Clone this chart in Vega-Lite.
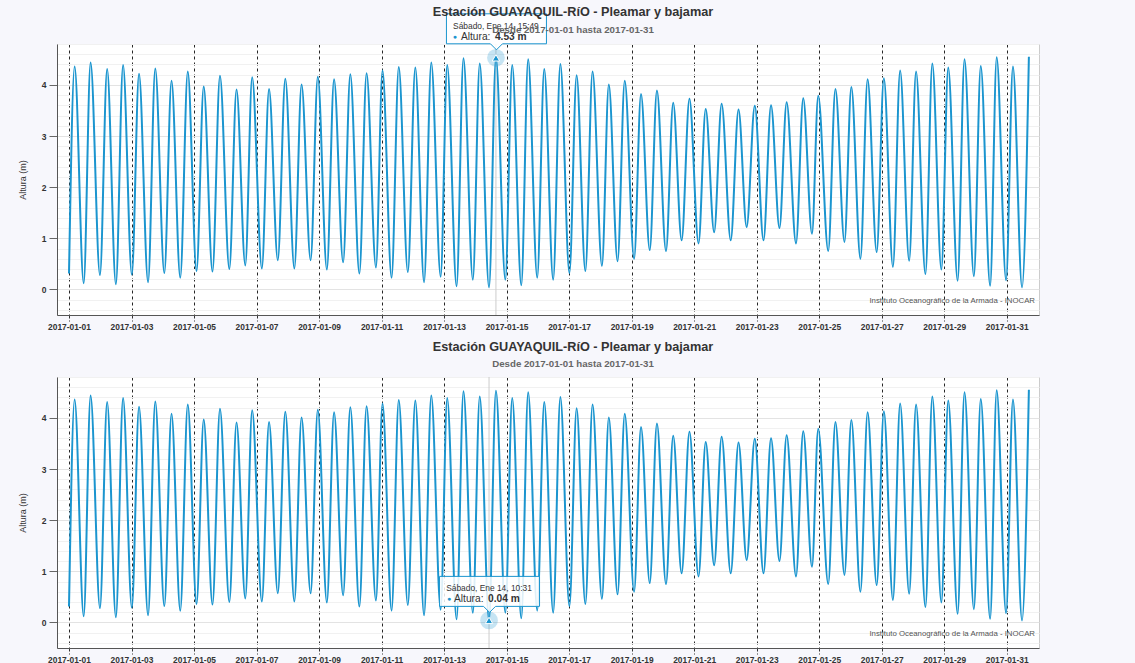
{
"$schema": "https://vega.github.io/schema/vega-lite/v6.json",
"background": "#f7f7fc",
"padding": {"left": 17, "top": 5, "right": 96, "bottom": 0},
"spacing": 9,
"config": {
  "font": "Liberation Sans",
  "view": {"fill": "white", "stroke": "#cccccc", "strokeWidth": 1},
  "axis": {"domainColor": "#555555", "labelColor": "#333333"}
},
"datasets": {
  "tide": [
    {"t":"2017-01-01T00:00:00Z","h":0.31},{"t":"2017-01-01T04:19:00Z","h":4.36},{"t":"2017-01-01T11:17:00Z","h":0.12},{"t":"2017-01-01T16:34:00Z","h":4.44},{"t":"2017-01-01T23:46:00Z","h":0.28},
    {"t":"2017-01-02T05:17:00Z","h":4.31},{"t":"2017-01-02T12:00:00Z","h":0.10},{"t":"2017-01-02T17:31:00Z","h":4.39},
    {"t":"2017-01-03T00:14:00Z","h":0.29},{"t":"2017-01-03T05:46:00Z","h":4.22},{"t":"2017-01-03T12:43:00Z","h":0.14},{"t":"2017-01-03T18:14:00Z","h":4.32},
    {"t":"2017-01-04T01:12:00Z","h":0.32},{"t":"2017-01-04T06:43:00Z","h":4.08},{"t":"2017-01-04T13:26:00Z","h":0.23},{"t":"2017-01-04T19:12:00Z","h":4.26},
    {"t":"2017-01-05T01:55:00Z","h":0.36},{"t":"2017-01-05T07:26:00Z","h":3.97},{"t":"2017-01-05T14:10:00Z","h":0.35},{"t":"2017-01-05T19:55:00Z","h":4.18},
    {"t":"2017-01-06T03:07:00Z","h":0.40},{"t":"2017-01-06T08:38:00Z","h":3.91},{"t":"2017-01-06T15:22:00Z","h":0.47},{"t":"2017-01-06T20:38:00Z","h":4.15},
    {"t":"2017-01-07T04:05:00Z","h":0.41},{"t":"2017-01-07T09:36:00Z","h":3.92},{"t":"2017-01-07T16:19:00Z","h":0.57},{"t":"2017-01-07T22:05:00Z","h":4.12},
    {"t":"2017-01-08T05:02:00Z","h":0.41},{"t":"2017-01-08T10:34:00Z","h":4.01},{"t":"2017-01-08T17:31:00Z","h":0.57},{"t":"2017-01-08T23:02:00Z","h":4.16},
    {"t":"2017-01-09T06:00:00Z","h":0.39},{"t":"2017-01-09T11:31:00Z","h":4.11},{"t":"2017-01-09T18:29:00Z","h":0.53},
    {"t":"2017-01-10T00:00:00Z","h":4.21},{"t":"2017-01-10T06:58:00Z","h":0.31},{"t":"2017-01-10T12:29:00Z","h":4.23},{"t":"2017-01-10T19:41:00Z","h":0.43},
    {"t":"2017-01-11T00:43:00Z","h":4.28},{"t":"2017-01-11T07:41:00Z","h":0.23},{"t":"2017-01-11T13:12:00Z","h":4.35},{"t":"2017-01-11T20:10:00Z","h":0.34},
    {"t":"2017-01-12T01:55:00Z","h":4.34},{"t":"2017-01-12T08:38:00Z","h":0.14},{"t":"2017-01-12T14:10:00Z","h":4.44},{"t":"2017-01-12T21:22:00Z","h":0.25},
    {"t":"2017-01-13T02:24:00Z","h":4.39},{"t":"2017-01-13T09:36:00Z","h":0.06},{"t":"2017-01-13T14:53:00Z","h":4.52},{"t":"2017-01-13T22:05:00Z","h":0.19},
    {"t":"2017-01-14T03:22:00Z","h":4.42},{"t":"2017-01-14T10:31:00Z","h":0.04},{"t":"2017-01-14T15:49:00Z","h":4.53},{"t":"2017-01-14T23:02:00Z","h":0.19},
    {"t":"2017-01-15T04:19:00Z","h":4.39},{"t":"2017-01-15T11:17:00Z","h":0.08},{"t":"2017-01-15T16:34:00Z","h":4.50},{"t":"2017-01-15T23:31:00Z","h":0.23},
    {"t":"2017-01-16T04:55:00Z","h":4.31},{"t":"2017-01-16T11:46:00Z","h":0.19},{"t":"2017-01-16T17:17:00Z","h":4.41},
    {"t":"2017-01-17T00:14:00Z","h":0.32},{"t":"2017-01-17T05:46:00Z","h":4.19},{"t":"2017-01-17T12:29:00Z","h":0.36},{"t":"2017-01-17T18:00:00Z","h":4.26},
    {"t":"2017-01-18T01:12:00Z","h":0.46},{"t":"2017-01-18T06:29:00Z","h":4.01},{"t":"2017-01-18T13:12:00Z","h":0.55},{"t":"2017-01-18T18:43:00Z","h":4.08},
    {"t":"2017-01-19T01:55:00Z","h":0.60},{"t":"2017-01-19T07:12:00Z","h":3.82},{"t":"2017-01-19T13:55:00Z","h":0.77},{"t":"2017-01-19T19:26:00Z","h":3.89},
    {"t":"2017-01-20T02:24:00Z","h":0.75},{"t":"2017-01-20T07:55:00Z","h":3.65},{"t":"2017-01-20T14:24:00Z","h":0.96},{"t":"2017-01-20T20:24:00Z","h":3.73},
    {"t":"2017-01-21T03:22:00Z","h":0.90},{"t":"2017-01-21T08:53:00Z","h":3.53},{"t":"2017-01-21T15:22:00Z","h":1.12},{"t":"2017-01-21T21:07:00Z","h":3.63},
    {"t":"2017-01-22T04:05:00Z","h":0.96},{"t":"2017-01-22T10:05:00Z","h":3.52},{"t":"2017-01-22T16:19:00Z","h":1.22},{"t":"2017-01-22T22:34:00Z","h":3.59},
    {"t":"2017-01-23T05:17:00Z","h":0.96},{"t":"2017-01-23T11:02:00Z","h":3.60},{"t":"2017-01-23T17:31:00Z","h":1.20},{"t":"2017-01-23T23:02:00Z","h":3.66},
    {"t":"2017-01-24T06:14:00Z","h":0.90},{"t":"2017-01-24T11:46:00Z","h":3.74},{"t":"2017-01-24T18:29:00Z","h":1.09},{"t":"2017-01-24T23:17:00Z","h":3.79},
    {"t":"2017-01-25T06:58:00Z","h":0.75},{"t":"2017-01-25T12:29:00Z","h":3.92},{"t":"2017-01-25T19:26:00Z","h":0.93},
    {"t":"2017-01-26T00:43:00Z","h":3.96},{"t":"2017-01-26T07:41:00Z","h":0.60},{"t":"2017-01-26T13:12:00Z","h":4.11},{"t":"2017-01-26T20:10:00Z","h":0.73},
    {"t":"2017-01-27T01:41:00Z","h":4.13},{"t":"2017-01-27T08:38:00Z","h":0.44},{"t":"2017-01-27T14:10:00Z","h":4.28},{"t":"2017-01-27T21:07:00Z","h":0.56},
    {"t":"2017-01-28T02:24:00Z","h":4.26},{"t":"2017-01-28T09:36:00Z","h":0.30},{"t":"2017-01-28T14:53:00Z","h":4.42},{"t":"2017-01-28T21:50:00Z","h":0.39},
    {"t":"2017-01-29T03:07:00Z","h":4.34},{"t":"2017-01-29T10:19:00Z","h":0.17},{"t":"2017-01-29T15:36:00Z","h":4.50},{"t":"2017-01-29T22:48:00Z","h":0.26},
    {"t":"2017-01-30T04:05:00Z","h":4.37},{"t":"2017-01-30T11:17:00Z","h":0.07},{"t":"2017-01-30T16:19:00Z","h":4.54},{"t":"2017-01-30T23:31:00Z","h":0.18},
    {"t":"2017-01-31T04:48:00Z","h":4.36},{"t":"2017-01-31T11:46:00Z","h":0.04},{"t":"2017-01-31T17:02:00Z","h":4.55}
  ],
  "tip1": [{"t":"2017-01-14T15:49:00Z","h":4.53,"fecha":"Sábado, Ene 14, 15:49","valor":"4.53 m"}],
  "tip2": [{"t":"2017-01-14T10:31:00Z","h":0.04,"fecha":"Sábado, Ene 14, 10:31","valor":"0.04 m"}],
  "credit": [{"texto":"Instituto Oceanográfico de la Armada - INOCAR"}]
},
"vconcat": [
  {
    "width": 982, "height": 271,
    "title": {"text": "Estación GUAYAQUIL-RíO - Pleamar y bajamar", "subtitle": "Desde 2017-01-01 hasta 2017-01-31", "frame": "group", "anchor": "middle", "dx": 25, "fontSize": 12.7, "fontWeight": "bold", "color": "#333333", "subtitleFontSize": 9.7, "subtitleFontWeight": "bold", "subtitleColor": "#666666", "offset": -23, "subtitlePadding": 6},
    "layer": [
      {"data": {"name": "tide"}, "mark": {"type": "line", "interpolate": "monotone", "strokeOpacity": 0, "strokeWidth": 2},
       "encoding": {
         "x": {"field": "t", "type": "temporal", "scale": {"type": "utc", "domain": [{"year":2016,"month":12,"date":31,"hours":14,"minutes":47,"utc":true},{"year":2017,"month":2,"date":1,"hours":0,"minutes":48,"utc":true}]},
           "axis": {"title": null, "format": "%Y-%m-%d", "tickCount": 40, "values": [{"year":2017,"month":1,"date":1,"utc":true},{"year":2017,"month":1,"date":3,"utc":true},{"year":2017,"month":1,"date":5,"utc":true},{"year":2017,"month":1,"date":7,"utc":true},{"year":2017,"month":1,"date":9,"utc":true},{"year":2017,"month":1,"date":11,"utc":true},{"year":2017,"month":1,"date":13,"utc":true},{"year":2017,"month":1,"date":15,"utc":true},{"year":2017,"month":1,"date":17,"utc":true},{"year":2017,"month":1,"date":19,"utc":true},{"year":2017,"month":1,"date":21,"utc":true},{"year":2017,"month":1,"date":23,"utc":true},{"year":2017,"month":1,"date":25,"utc":true},{"year":2017,"month":1,"date":27,"utc":true},{"year":2017,"month":1,"date":29,"utc":true},{"year":2017,"month":1,"date":31,"utc":true}],
             "grid": true, "gridColor": "#000000", "gridDash": [3, 3], "gridOpacity": 0.85, "tickSize": 6, "tickColor": "#333333", "tickDash": [3, 2], "labelFontSize": 8.4, "labelFontWeight": "bold", "labelPadding": 1, "labelFlush": false, "labelOverlap": false, "domainColor": "#555555"}},
         "y": {"field": "h", "type": "quantitative", "scale": {"domain": [-0.5, 4.8], "nice": false, "zero": false},
           "axis": {"title": "Altura (m)", "titleFontSize": 9, "titleFontWeight": "normal", "titleColor": "#333333", "titlePadding": 14, "tickCount": 40,
             "values": [-0.4,-0.2,0,0.2,0.4,0.6,0.8,1,1.2,1.4,1.6,1.8,2,2.2,2.4,2.6,2.8,3,3.2,3.4,3.6,3.8,4,4.2,4.4,4.6,4.8],
             "labelExpr": "datum.value % 1 === 0 ? format(datum.value, 'd') : ''",
             "labelFontSize": 8.5, "labelFontWeight": "bold", "labelPadding": 3, "labelOverlap": false, "tickSize": 8, "tickColor": "#666666",
             "tickOpacity": {"condition": {"test": "datum.value % 1 === 0", "value": 1}, "value": 0},
             "gridColor": {"condition": {"test": "datum.value % 1 === 0", "value": "#e3e3e3"}, "value": "#f1f1f1"},
             "domainColor": "#555555"}}
       }},
      {"data": {"name": "tip1"}, "mark": {"type": "rule", "color": "#cccccc", "strokeWidth": 1},
       "encoding": {"x": {"field": "t", "type": "temporal", "scale": {"type": "utc"}}}},
      {"data": {"name": "tide"}, "mark": {"type": "line", "interpolate": "monotone", "color": "#1b95cf", "strokeWidth": 2},
       "encoding": {"x": {"field": "t", "type": "temporal", "scale": {"type": "utc"}}, "y": {"field": "h", "type": "quantitative"}}},
      {"data": {"name": "credit"}, "mark": {"type": "text", "align": "right", "baseline": "middle", "fontSize": 7.8, "color": "#555555", "xOffset": -4},
       "encoding": {"x": {"datum": {"year":2017,"month":2,"date":1,"hours":0,"minutes":48,"utc":true}, "type": "temporal", "scale": {"type": "utc"}}, "y": {"datum": -0.23, "type": "quantitative"}, "text": {"field": "texto"}}},
      {"data": {"name": "tip1"}, "mark": {"type": "point", "shape": "circle", "size": 314, "filled": true, "color": "#1b95cf", "opacity": 0.25},
       "encoding": {"x": {"field": "t", "type": "temporal", "scale": {"type": "utc"}}, "y": {"field": "h", "type": "quantitative"}}},
      {"data": {"name": "tip1"}, "mark": {"type": "point", "shape": "triangle-up", "size": 55, "filled": true, "color": "#1b95cf", "stroke": "white", "strokeWidth": 1, "opacity": 1},
       "encoding": {"x": {"field": "t", "type": "temporal", "scale": {"type": "utc"}}, "y": {"field": "h", "type": "quantitative"}}},
      {"data": {"name": "tip1"}, "mark": {"type": "point", "shape": "M-1,-0.3L1,-0.3L1,0.3L0.12,0.3L0,0.42L-0.12,0.3L-1,0.3Z", "size": 10000, "filled": true, "fill": "white", "fillOpacity": 0.85, "stroke": "#1b95cf", "strokeWidth": 1, "strokeOpacity": 1, "yOffset": -29, "xOffset": 0.5},
       "encoding": {"x": {"field": "t", "type": "temporal", "scale": {"type": "utc"}}, "y": {"field": "h", "type": "quantitative"}}},
      {"data": {"name": "tip1"}, "mark": {"type": "text", "align": "center", "baseline": "middle", "fontSize": 8.4, "color": "#333333", "yOffset": -32},
       "encoding": {"x": {"field": "t", "type": "temporal", "scale": {"type": "utc"}}, "y": {"field": "h", "type": "quantitative"}, "text": {"field": "fecha"}}},
      {"data": {"name": "tip1"}, "mark": {"type": "text", "text": "●", "align": "center", "baseline": "middle", "fontSize": 7, "color": "#1b95cf", "yOffset": -21, "xOffset": -41},
       "encoding": {"x": {"field": "t", "type": "temporal", "scale": {"type": "utc"}}, "y": {"field": "h", "type": "quantitative"}}},
      {"data": {"name": "tip1"}, "mark": {"type": "text", "text": "Altura:", "align": "left", "baseline": "middle", "fontSize": 10.2, "color": "#333333", "yOffset": -21, "xOffset": -35},
       "encoding": {"x": {"field": "t", "type": "temporal", "scale": {"type": "utc"}}, "y": {"field": "h", "type": "quantitative"}}},
      {"data": {"name": "tip1"}, "mark": {"type": "text", "align": "left", "baseline": "middle", "fontSize": 10.2, "fontWeight": "bold", "color": "#333333", "yOffset": -21, "xOffset": -1},
       "encoding": {"x": {"field": "t", "type": "temporal", "scale": {"type": "utc"}}, "y": {"field": "h", "type": "quantitative"}, "text": {"field": "valor"}}}
    ]
  },
  {
    "width": 982, "height": 271,
    "title": {"text": "Estación GUAYAQUIL-RíO - Pleamar y bajamar", "subtitle": "Desde 2017-01-01 hasta 2017-01-31", "frame": "group", "anchor": "middle", "dx": 25, "fontSize": 12.7, "fontWeight": "bold", "color": "#333333", "subtitleFontSize": 9.7, "subtitleFontWeight": "bold", "subtitleColor": "#666666", "offset": 4, "subtitlePadding": 6},
    "layer": [
      {"data": {"name": "tide"}, "mark": {"type": "line", "interpolate": "monotone", "strokeOpacity": 0, "strokeWidth": 2},
       "encoding": {
         "x": {"field": "t", "type": "temporal", "scale": {"type": "utc", "domain": [{"year":2016,"month":12,"date":31,"hours":14,"minutes":47,"utc":true},{"year":2017,"month":2,"date":1,"hours":0,"minutes":48,"utc":true}]},
           "axis": {"title": null, "format": "%Y-%m-%d", "tickCount": 40, "values": [{"year":2017,"month":1,"date":1,"utc":true},{"year":2017,"month":1,"date":3,"utc":true},{"year":2017,"month":1,"date":5,"utc":true},{"year":2017,"month":1,"date":7,"utc":true},{"year":2017,"month":1,"date":9,"utc":true},{"year":2017,"month":1,"date":11,"utc":true},{"year":2017,"month":1,"date":13,"utc":true},{"year":2017,"month":1,"date":15,"utc":true},{"year":2017,"month":1,"date":17,"utc":true},{"year":2017,"month":1,"date":19,"utc":true},{"year":2017,"month":1,"date":21,"utc":true},{"year":2017,"month":1,"date":23,"utc":true},{"year":2017,"month":1,"date":25,"utc":true},{"year":2017,"month":1,"date":27,"utc":true},{"year":2017,"month":1,"date":29,"utc":true},{"year":2017,"month":1,"date":31,"utc":true}],
             "grid": true, "gridColor": "#000000", "gridDash": [3, 3], "gridOpacity": 0.85, "tickSize": 6, "tickColor": "#333333", "tickDash": [3, 2], "labelFontSize": 8.4, "labelFontWeight": "bold", "labelPadding": 1, "labelFlush": false, "labelOverlap": false, "domainColor": "#555555"}},
         "y": {"field": "h", "type": "quantitative", "scale": {"domain": [-0.5, 4.8], "nice": false, "zero": false},
           "axis": {"title": "Altura (m)", "titleFontSize": 9, "titleFontWeight": "normal", "titleColor": "#333333", "titlePadding": 14, "tickCount": 40,
             "values": [-0.4,-0.2,0,0.2,0.4,0.6,0.8,1,1.2,1.4,1.6,1.8,2,2.2,2.4,2.6,2.8,3,3.2,3.4,3.6,3.8,4,4.2,4.4,4.6,4.8],
             "labelExpr": "datum.value % 1 === 0 ? format(datum.value, 'd') : ''",
             "labelFontSize": 8.5, "labelFontWeight": "bold", "labelPadding": 3, "labelOverlap": false, "tickSize": 8, "tickColor": "#666666",
             "tickOpacity": {"condition": {"test": "datum.value % 1 === 0", "value": 1}, "value": 0},
             "gridColor": {"condition": {"test": "datum.value % 1 === 0", "value": "#e3e3e3"}, "value": "#f1f1f1"},
             "domainColor": "#555555"}}
       }},
      {"data": {"name": "tip2"}, "mark": {"type": "rule", "color": "#cccccc", "strokeWidth": 1},
       "encoding": {"x": {"field": "t", "type": "temporal", "scale": {"type": "utc"}}}},
      {"data": {"name": "tide"}, "mark": {"type": "line", "interpolate": "monotone", "color": "#1b95cf", "strokeWidth": 2},
       "encoding": {"x": {"field": "t", "type": "temporal", "scale": {"type": "utc"}}, "y": {"field": "h", "type": "quantitative"}}},
      {"data": {"name": "credit"}, "mark": {"type": "text", "align": "right", "baseline": "middle", "fontSize": 7.8, "color": "#555555", "xOffset": -4},
       "encoding": {"x": {"datum": {"year":2017,"month":2,"date":1,"hours":0,"minutes":48,"utc":true}, "type": "temporal", "scale": {"type": "utc"}}, "y": {"datum": -0.23, "type": "quantitative"}, "text": {"field": "texto"}}},
      {"data": {"name": "tip2"}, "mark": {"type": "point", "shape": "circle", "size": 314, "filled": true, "color": "#1b95cf", "opacity": 0.25},
       "encoding": {"x": {"field": "t", "type": "temporal", "scale": {"type": "utc"}}, "y": {"field": "h", "type": "quantitative"}}},
      {"data": {"name": "tip2"}, "mark": {"type": "point", "shape": "triangle-up", "size": 55, "filled": true, "color": "#1b95cf", "stroke": "white", "strokeWidth": 1, "opacity": 1},
       "encoding": {"x": {"field": "t", "type": "temporal", "scale": {"type": "utc"}}, "y": {"field": "h", "type": "quantitative"}}},
      {"data": {"name": "tip2"}, "mark": {"type": "point", "shape": "M-1,-0.3L1,-0.3L1,0.3L0.12,0.3L0,0.42L-0.12,0.3L-1,0.3Z", "size": 10000, "filled": true, "fill": "white", "fillOpacity": 0.85, "stroke": "#1b95cf", "strokeWidth": 1, "strokeOpacity": 1, "yOffset": -29, "xOffset": 0.5},
       "encoding": {"x": {"field": "t", "type": "temporal", "scale": {"type": "utc"}}, "y": {"field": "h", "type": "quantitative"}}},
      {"data": {"name": "tip2"}, "mark": {"type": "text", "align": "center", "baseline": "middle", "fontSize": 8.4, "color": "#333333", "yOffset": -32},
       "encoding": {"x": {"field": "t", "type": "temporal", "scale": {"type": "utc"}}, "y": {"field": "h", "type": "quantitative"}, "text": {"field": "fecha"}}},
      {"data": {"name": "tip2"}, "mark": {"type": "text", "text": "●", "align": "center", "baseline": "middle", "fontSize": 7, "color": "#1b95cf", "yOffset": -21, "xOffset": -40},
       "encoding": {"x": {"field": "t", "type": "temporal", "scale": {"type": "utc"}}, "y": {"field": "h", "type": "quantitative"}}},
      {"data": {"name": "tip2"}, "mark": {"type": "text", "text": "Altura:", "align": "left", "baseline": "middle", "fontSize": 10.2, "color": "#333333", "yOffset": -21, "xOffset": -35},
       "encoding": {"x": {"field": "t", "type": "temporal", "scale": {"type": "utc"}}, "y": {"field": "h", "type": "quantitative"}}},
      {"data": {"name": "tip2"}, "mark": {"type": "text", "align": "left", "baseline": "middle", "fontSize": 10.2, "fontWeight": "bold", "color": "#333333", "yOffset": -21, "xOffset": -1},
       "encoding": {"x": {"field": "t", "type": "temporal", "scale": {"type": "utc"}}, "y": {"field": "h", "type": "quantitative"}, "text": {"field": "valor"}}}
    ]
  }
]
}
